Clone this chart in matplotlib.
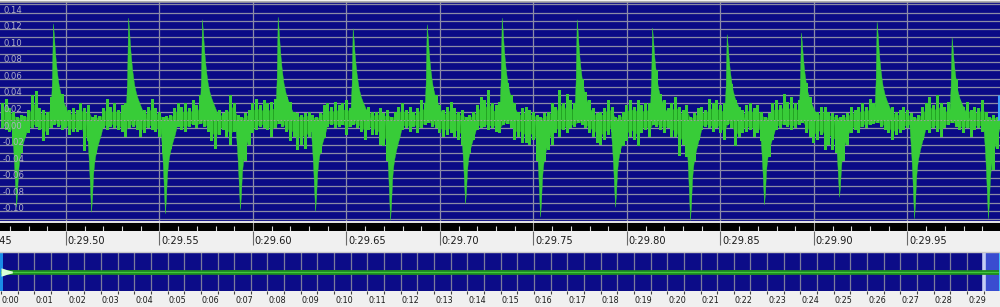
import matplotlib
matplotlib.use("Agg")
import matplotlib.pyplot as plt
import numpy as np
from matplotlib.ticker import MultipleLocator
from matplotlib.transforms import offset_copy, blended_transform_factory
from matplotlib.lines import Line2D

# ---------------- data ----------------
view_start, view_end = 29.46471, 29.99947          # seconds shown in the zoomed view

pos_t = [29.4930, 29.5332, 29.5727, 29.6132, 29.6533, 29.6929, 29.7330,
         29.7731, 29.8134, 29.8533, 29.8930, 29.9335, 29.9736]
pos_amp = [0.117, 0.124, 0.122, 0.125, 0.111, 0.116, 0.124,
           0.122, 0.112, 0.104, 0.106, 0.119, 0.100]
neg_t = [29.4733, 29.5134, 29.5529, 29.5930, 29.6332, 29.6733, 29.7134,
         29.7535, 29.7936, 29.8337, 29.8733, 29.9134, 29.9535, 29.9930]
neg_amp = [-0.105, -0.111, -0.113, -0.108, -0.110, -0.121, -0.101,
           -0.117, -0.105, -0.121, -0.102, -0.093, -0.119, -0.119]

# spike shapes (offset in ms from the peak, fraction of the peak)
pos_shape_ms = [-1.6, -1.07, -0.53, 0.0, 0.53, 1.07, 1.6, 2.14, 2.67, 3.2,
                4.28, 5.35, 6.42, 7.49, 8.56, 9.63]
pos_shape_frac = [0.0, 0.15, 0.4, 1.0, 0.88, 0.72, 0.6, 0.5, 0.42, 0.35,
                  0.26, 0.2, 0.15, 0.1, 0.06, 0.0]
neg_shape_ms = [-2.67, -2.14, -1.6, -1.07, -0.53, 0.0, 0.53, 1.07, 1.6, 2.14,
                3.2, 4.28, 5.35, 6.42]
neg_shape_frac = [0.0, 0.15, 0.3, 0.5, 0.75, 1.0, 0.85, 0.6, 0.48, 0.4,
                  0.3, 0.22, 0.15, 0.05]

# low-level activity between the spikes, one value every 2 ms from 29.466 s
fuzz_t0, fuzz_dt = 29.466, 0.002
fuzz_pos = [
    0.02, 0.025, 0.015, 0.01, 0.004, 0.006, 0.005, 0.012, 0.03, 0.035, 0.015, 0.012, 0.01, 0.028, 0.02, 0.036, 0.032, 0.016, 0.012, 0.014,
    0.012, 0.02, 0.014, 0.018, 0.004, 0.006, 0.005, 0.014, 0.026, 0.016, 0.02, 0.012, 0.018, 0.02, 0.02, 0.03, 0.02, 0.015, 0.012, 0.016,
    0.026, 0.015, 0.01, 0.004, 0.005, 0.006, 0.015, 0.02, 0.016, 0.02, 0.014, 0.024, 0.018, 0.03, 0.04, 0.03, 0.015, 0.01, 0.012, 0.008,
    0.012, 0.03, 0.02, 0.006, 0.004, 0.008, 0.012, 0.02, 0.025, 0.018, 0.024, 0.02, 0.022, 0.025, 0.02, 0.04, 0.028, 0.022, 0.01, 0.008,
    0.006, 0.008, 0.01, 0.006, 0.004, 0.008, 0.018, 0.02, 0.016, 0.022, 0.018, 0.02, 0.024, 0.015, 0.02, 0.03, 0.02, 0.012, 0.016, 0.01,
    0.01, 0.014, 0.008, 0.012, 0.004, 0.01, 0.016, 0.02, 0.012, 0.016, 0.01, 0.014, 0.024, 0.02, 0.02, 0.04, 0.03, 0.018, 0.012, 0.016,
    0.022, 0.014, 0.01, 0.012, 0.004, 0.006, 0.01, 0.018, 0.028, 0.024, 0.036, 0.02, 0.018, 0.022, 0.02, 0.045, 0.03, 0.02, 0.01, 0.014,
    0.016, 0.012, 0.01, 0.006, 0.004, 0.008, 0.01, 0.02, 0.016, 0.036, 0.02, 0.032, 0.024, 0.02, 0.02, 0.05, 0.034, 0.024, 0.015, 0.008,
    0.01, 0.014, 0.024, 0.016, 0.004, 0.006, 0.01, 0.018, 0.024, 0.016, 0.024, 0.018, 0.02, 0.02, 0.02, 0.06, 0.032, 0.024, 0.014, 0.02,
    0.028, 0.016, 0.012, 0.018, 0.004, 0.008, 0.014, 0.016, 0.012, 0.026, 0.02, 0.024, 0.018, 0.02, 0.02, 0.044, 0.024, 0.016, 0.012, 0.018,
    0.02, 0.014, 0.018, 0.01, 0.004, 0.008, 0.02, 0.024, 0.018, 0.032, 0.022, 0.028, 0.02, 0.024, 0.02, 0.045, 0.028, 0.012, 0.01, 0.016,
    0.016, 0.01, 0.008, 0.006, 0.004, 0.006, 0.008, 0.016, 0.012, 0.016, 0.02, 0.016, 0.026, 0.02, 0.02, 0.04, 0.02, 0.012, 0.016, 0.01,
    0.012, 0.016, 0.012, 0.008, 0.004, 0.006, 0.016, 0.02, 0.028, 0.018, 0.03, 0.02, 0.016, 0.022, 0.02, 0.05, 0.024, 0.016, 0.022, 0.012,
    0.016, 0.014, 0.024, 0.01, 0.004, 0.006, 0.004]
fuzz_neg = [
    -0.01, -0.012, -0.015, -0.03, -0.02, -0.04, -0.022, -0.016, -0.01, -0.008, -0.012, -0.025, -0.018, -0.01, -0.006, -0.008, -0.012, -0.01, -0.018, -0.015,
    -0.015, -0.012, -0.038, -0.025, -0.02, -0.04, -0.018, -0.01, -0.012, -0.008, -0.01, -0.012, -0.015, -0.02, -0.01, -0.008, -0.012, -0.02, -0.016, -0.01,
    -0.012, -0.015, -0.02, -0.04, -0.02, -0.035, -0.012, -0.008, -0.012, -0.014, -0.008, -0.006, -0.01, -0.005, -0.008, -0.015, -0.025, -0.035, -0.018, -0.012,
    -0.02, -0.03, -0.015, -0.03, -0.02, -0.05, -0.03, -0.016, -0.012, -0.008, -0.01, -0.012, -0.02, -0.01, -0.005, -0.008, -0.015, -0.025, -0.02, -0.036,
    -0.03, -0.035, -0.02, -0.015, -0.02, -0.04, -0.022, -0.008, -0.006, -0.01, -0.008, -0.006, -0.018, -0.008, -0.006, -0.01, -0.014, -0.024, -0.012, -0.018,
    -0.018, -0.03, -0.032, -0.05, -0.02, -0.035, -0.022, -0.012, -0.01, -0.014, -0.008, -0.016, -0.01, -0.006, -0.004, -0.008, -0.01, -0.016, -0.02, -0.018,
    -0.016, -0.02, -0.024, -0.03, -0.02, -0.04, -0.024, -0.012, -0.01, -0.008, -0.012, -0.01, -0.014, -0.016, -0.006, -0.005, -0.01, -0.024, -0.02, -0.028,
    -0.028, -0.03, -0.024, -0.05, -0.02, -0.05, -0.036, -0.03, -0.016, -0.02, -0.012, -0.016, -0.01, -0.008, -0.004, -0.006, -0.01, -0.016, -0.02, -0.028,
    -0.03, -0.024, -0.018, -0.015, -0.02, -0.04, -0.032, -0.026, -0.02, -0.024, -0.032, -0.016, -0.012, -0.02, -0.006, -0.008, -0.012, -0.016, -0.01, -0.02,
    -0.02, -0.044, -0.03, -0.045, -0.02, -0.05, -0.024, -0.012, -0.008, -0.01, -0.014, -0.01, -0.016, -0.024, -0.006, -0.01, -0.032, -0.02, -0.016, -0.014,
    -0.012, -0.02, -0.016, -0.025, -0.02, -0.045, -0.024, -0.012, -0.01, -0.006, -0.008, -0.012, -0.01, -0.006, -0.004, -0.016, -0.02, -0.028, -0.024, -0.018,
    -0.036, -0.03, -0.036, -0.04, -0.02, -0.05, -0.03, -0.016, -0.012, -0.016, -0.008, -0.01, -0.006, -0.005, -0.004, -0.008, -0.012, -0.016, -0.024, -0.018,
    -0.016, -0.012, -0.01, -0.008, -0.02, -0.04, -0.024, -0.012, -0.016, -0.01, -0.014, -0.02, -0.01, -0.006, -0.004, -0.008, -0.012, -0.016, -0.01, -0.02,
    -0.012, -0.01, -0.014, -0.03, -0.02, -0.06, -0.035]

y_labels = [0.14, 0.12, 0.10, 0.08, 0.06, 0.04, 0.02, 0.00, -0.02, -0.04, -0.06, -0.08, -0.10]
x_labels = [29.45, 29.50, 29.55, 29.60, 29.65, 29.70, 29.75, 29.80, 29.85, 29.90, 29.95]

# overview of the whole recording (0 - 30 s)
ov_t = list(range(0, 31))
ov_amp = [0.13, 0.12, 0.13, 0.12, 0.13, 0.13, 0.12, 0.13, 0.12, 0.13, 0.13,
          0.12, 0.13, 0.13, 0.12, 0.13, 0.12, 0.13, 0.13, 0.12, 0.13,
          0.12, 0.13, 0.13, 0.12, 0.13, 0.12, 0.13, 0.13, 0.12, 0.13]
intro_t = [0.0, 0.08, 0.16, 0.24, 0.34]
intro_amp = [0.22, 0.18, 0.13, 0.09, 0.05]
ov_labels = list(range(0, 30))

# ---------------- styling ----------------
BG = '#f0f0f0'
NAVY = '#0b0b86'
GRID = '#8c8ca6'
GREEN = '#38cc38'
GREEN_DARK = '#24a424'
FONT = 'DejaVu Sans'
W, H = 1000, 307

fig = plt.figure(figsize=(W / 100, H / 100), dpi=100, facecolor=BG)


def rect(x0, y0, x1, y1):
    return [x0 / W, 1 - y1 / H, (x1 - x0) / W, (y1 - y0) / H]


# ---------------- main waveform panel ----------------
ax = fig.add_axes(rect(0, 1.5, W, 222))
ax.set_facecolor(NAVY)
ax.set_xlim(view_start, view_end)
ax.set_ylim(-0.1236, 0.1436)
ax.yaxis.set_major_locator(MultipleLocator(0.01))
ax.xaxis.set_major_locator(MultipleLocator(0.05))
ax.grid(True, color=GRID, lw=0.9, zorder=1)
ax.set_axisbelow(True)
ax.tick_params(left=False, bottom=False, labelleft=False, labelbottom=False)
for s in ['left', 'right', 'bottom']:
    ax.spines[s].set_visible(False)
ax.spines['top'].set_color('#a0a0a0')
ax.spines['top'].set_linewidth(1.2)

fz_t = [fuzz_t0 + fuzz_dt * i for i in range(len(fuzz_pos))]
# dense low part of the activity, then the individual strokes
ax.fill_between(fz_t, 0, [0.6 * v for v in fuzz_pos], color=GREEN_DARK, lw=0, zorder=2)
ax.fill_between(fz_t, [0.6 * v for v in fuzz_neg], 0, color=GREEN_DARK, lw=0, zorder=2)
ax.bar(fz_t, fuzz_pos, width=0.0016, color=GREEN, lw=0, zorder=2.2)
ax.bar(fz_t, fuzz_neg, width=0.0016, color=GREEN, lw=0, zorder=2.2)
for t, a in zip(pos_t, pos_amp):
    ax.fill_between([t + m / 1000 for m in pos_shape_ms], 0,
                    [a * f for f in pos_shape_frac], color=GREEN, lw=0.3, zorder=2.4)
for t, a in zip(neg_t, neg_amp):
    ax.fill_between([t + m / 1000 for m in neg_shape_ms],
                    [a * f for f in neg_shape_frac], 0, color=GREEN, lw=0.3, zorder=2.4)

ax.axhline(0, color='#9aa09a', lw=0.8, ls=(0, (1.5, 1.5)), zorder=3)

# playback cursor at right edge
ax.plot([view_end - 0.0008, view_end - 0.0008], [0.0, 0.03], color='#3aa0ff', lw=2.2,
        zorder=4, solid_capstyle='butt')

ytr = offset_copy(blended_transform_factory(ax.transAxes, ax.transData), fig=fig,
                  x=3, y=-1.5, units='dots')
for v in y_labels:
    ax.text(0, v, f"{v:.2f}", transform=ytr, ha='left', va='top',
            fontsize=6.1, color='#aeaec6', family=FONT, zorder=5)

# ---------------- black tick band ----------------
axb = fig.add_axes(rect(0, 222, W, 231))
axb.set_facecolor('black')
axb.set_xlim(view_start, view_end)
axb.set_ylim(0, 1)
axb.xaxis.set_major_locator(MultipleLocator(0.05))
axb.xaxis.set_minor_locator(MultipleLocator(0.01))
axb.tick_params(axis='x', which='minor', direction='in', length=3.5, width=0.8,
                color='#d8d8d8', labelbottom=False)
axb.tick_params(axis='x', which='major', direction='in', length=7, width=0.8,
                color='#a0a0a0', labelbottom=False)
axb.tick_params(left=False, labelleft=False)
for s in ['left', 'right', 'bottom']:
    axb.spines[s].set_visible(False)
axb.spines['top'].set_color('#e6e6e6')
axb.spines['top'].set_linewidth(1.4)

# ---------------- time label strip ----------------
axl = fig.add_axes(rect(0, 231, W, 250))
axl.set_facecolor(BG)
axl.set_xlim(view_start, view_end)
axl.set_ylim(0, 1)
axl.xaxis.set_major_locator(MultipleLocator(0.05))
axl.tick_params(axis='x', which='major', direction='in', top=True, bottom=False,
                length=10, width=0.8, color='#6a6a6a', labelbottom=False)
axl.tick_params(left=False, labelleft=False)
for s in axl.spines.values():
    s.set_visible(False)
ltr = offset_copy(blended_transform_factory(axl.transData, axl.transAxes), fig=fig,
                  x=1.5, y=0, units='dots')
for t in x_labels:
    axl.text(t, 0.45, f"0:{t:05.2f}", transform=ltr, ha='left', va='center',
             fontsize=7.1, color='#1a1a1a', family=FONT, clip_on=False)

fig.add_artist(Line2D([0, 1], [1 - 251.5 / H] * 2, color='#c8c8c8', lw=1.0))

# ---------------- overview panel ----------------
axo = fig.add_axes(rect(0, 253, W, 291))
axo.set_facecolor('#0c0c88')
axo.set_xlim(-0.03, 29.99)
axo.set_ylim(-1, 1)
axo.xaxis.set_major_locator(MultipleLocator(0.5))
axo.grid(True, axis='x', color='#7c7c9c', lw=0.9, zorder=1)
axo.set_axisbelow(True)
axo.tick_params(left=False, bottom=False, labelleft=False, labelbottom=False)
for s in axo.spines.values():
    s.set_visible(False)
axo.axvspan(view_start, 29.99, color='#3a4cd0', zorder=1.5, lw=0)
axo.axvline(view_start + 0.05, color='#c4ccf4', lw=2.6, zorder=1.6)
axo.axvspan(-0.03, 0.06, color='#1a8ce8', zorder=1.6, lw=0)
axo.fill_between(ov_t, [-a for a in ov_amp], ov_amp, color='#1f8e1f', lw=0, zorder=2)
axo.plot(ov_t, [0] * len(ov_t), color='#40c840', lw=0.8, zorder=3)
axo.fill_between(intro_t, [-a for a in intro_amp], intro_amp, color='#d8ffd8', lw=0, zorder=4)
axo.axvline(29.975, color='#40c0ff', lw=1.4, zorder=4)

# ---------------- overview time strip ----------------
axs = fig.add_axes(rect(0, 291, W, H))
axs.set_facecolor(BG)
axs.set_xlim(-0.03, 29.99)
axs.set_ylim(0, 1)
axs.xaxis.set_major_locator(MultipleLocator(0.5))
axs.tick_params(axis='x', which='major', direction='in', top=True, bottom=False,
                length=2.5, width=0.8, color='#404040', labelbottom=False)
axs.tick_params(left=False, labelleft=False)
for s in axs.spines.values():
    s.set_visible(False)
otr = offset_copy(blended_transform_factory(axs.transData, axs.transAxes), fig=fig,
                  x=1, y=0, units='dots')
for s in ov_labels:
    axs.text(s, 0.4, f"0:{s:02d}", transform=otr, ha='left', va='center',
             fontsize=5.8, color='#1a1a1a', family=FONT, clip_on=False)

fig.savefig('out.png', dpi=100, facecolor=BG)
